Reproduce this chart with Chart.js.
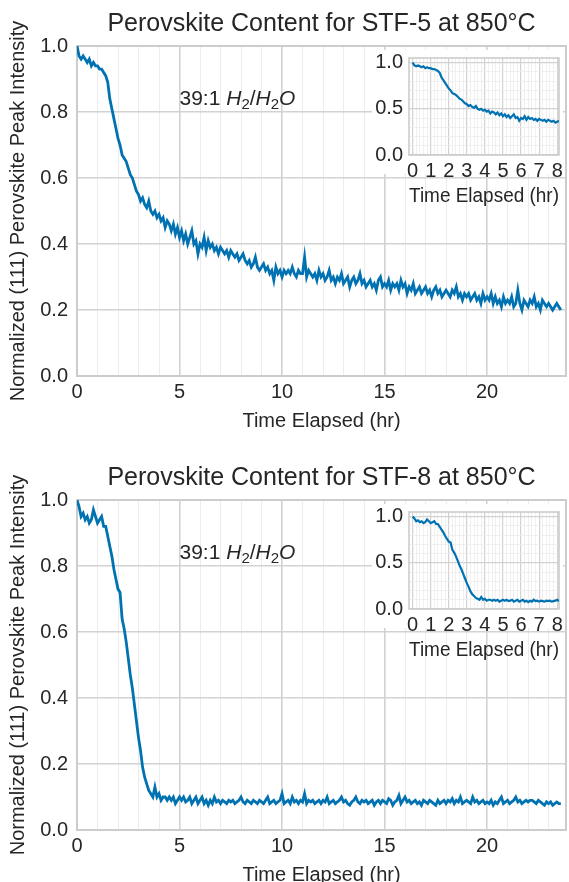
<!DOCTYPE html>
<html><head><meta charset="utf-8">
<script src="https://cdn.jsdelivr.net/npm/chart.js@4.4.1/dist/chart.umd.min.js"></script>
<style>
html,body{margin:0;padding:0;background:#fff;overflow:hidden;}
#wrap{position:relative;width:569px;height:882px;overflow:hidden;background:#fff;}
canvas{position:absolute;}
</style></head><body>
<div id="wrap">
<canvas id="main1" width="569" height="441" style="left:0px;top:0px"></canvas>
<canvas id="inset1" width="199" height="170" style="left:370px;top:40px"></canvas>
<canvas id="main2" width="569" height="441" style="left:0px;top:454px"></canvas>
<canvas id="inset2" width="199" height="170" style="left:370px;top:494px"></canvas>
</div>
<script>
// ---- data ----
const timeHr = [
  0,0.1,0.2,0.3,0.4,0.5,0.6,0.7,0.8,0.9,
  1,1.1,1.2,1.3,1.4,1.5,1.6,1.7,1.8,1.9,
  2,2.1,2.2,2.3,2.4,2.5,2.6,2.7,2.8,2.9,
  3,3.1,3.2,3.3,3.4,3.5,3.6,3.7,3.8,3.9,
  4,4.1,4.2,4.3,4.4,4.5,4.6,4.7,4.8,4.9,
  5,5.1,5.2,5.3,5.4,5.5,5.6,5.7,5.8,5.9,
  6,6.1,6.2,6.3,6.4,6.5,6.6,6.7,6.8,6.9,
  7,7.1,7.2,7.3,7.4,7.5,7.6,7.7,7.8,7.9,
  8,8.1,8.2,8.3,8.4,8.5,8.6,8.7,8.8,8.9,
  9,9.1,9.2,9.3,9.4,9.5,9.6,9.7,9.8,9.9,
  10,10.1,10.2,10.3,10.4,10.5,10.6,10.7,10.8,10.9,
  11,11.1,11.2,11.3,11.4,11.5,11.6,11.7,11.8,11.9,
  12,12.1,12.2,12.3,12.4,12.5,12.6,12.7,12.8,12.9,
  13,13.1,13.2,13.3,13.4,13.5,13.6,13.7,13.8,13.9,
  14,14.1,14.2,14.3,14.4,14.5,14.6,14.7,14.8,14.9,
  15,15.1,15.2,15.3,15.4,15.5,15.6,15.7,15.8,15.9,
  16,16.1,16.2,16.3,16.4,16.5,16.6,16.7,16.8,16.9,
  17,17.1,17.2,17.3,17.4,17.5,17.6,17.7,17.8,17.9,
  18,18.1,18.2,18.3,18.4,18.5,18.6,18.7,18.8,18.9,
  19,19.1,19.2,19.3,19.4,19.5,19.6,19.7,19.8,19.9,
  20,20.1,20.2,20.3,20.4,20.5,20.6,20.7,20.8,20.9,
  21,21.1,21.2,21.3,21.4,21.5,21.6,21.7,21.8,21.9,
  22,22.1,22.2,22.3,22.4,22.5,22.6,22.7,22.8,22.9,
  23,23.1,23.2,23.3,23.4,23.5,23.6];

const stf5Intensity = [
  1.00,0.97,0.96,0.97,0.96,0.95,0.96,0.94,0.95,0.94,
  0.94,0.93,0.93,0.92,0.91,0.89,0.84,0.81,0.78,0.75,
  0.72,0.70,0.67,0.66,0.65,0.63,0.61,0.60,0.58,0.56,
  0.55,0.53,0.54,0.52,0.51,0.53,0.50,0.49,0.50,0.48,
  0.49,0.47,0.48,0.45,0.47,0.46,0.44,0.46,0.43,0.45,
  0.42,0.44,0.41,0.43,0.40,0.42,0.44,0.40,0.41,0.37,
  0.40,0.39,0.42,0.38,0.41,0.39,0.40,0.38,0.39,0.37,
  0.39,0.38,0.37,0.38,0.36,0.38,0.37,0.36,0.37,0.35,
  0.36,0.37,0.35,0.34,0.35,0.33,0.34,0.36,0.33,0.32,
  0.33,0.34,0.32,0.33,0.31,0.32,0.29,0.33,0.31,0.32,
  0.30,0.32,0.31,0.32,0.31,0.33,0.31,0.30,0.32,0.31,
  0.31,0.36,0.30,0.32,0.31,0.30,0.31,0.29,0.32,0.30,
  0.31,0.29,0.30,0.32,0.29,0.30,0.28,0.30,0.29,0.31,
  0.28,0.29,0.30,0.27,0.29,0.30,0.28,0.29,0.31,0.28,
  0.29,0.27,0.28,0.29,0.27,0.28,0.26,0.29,0.30,0.27,
  0.28,0.27,0.29,0.26,0.28,0.27,0.28,0.26,0.29,0.27,
  0.28,0.25,0.27,0.26,0.28,0.25,0.26,0.27,0.25,0.26,
  0.27,0.25,0.26,0.24,0.26,0.27,0.25,0.26,0.24,0.25,
  0.26,0.25,0.24,0.26,0.25,0.27,0.24,0.25,0.23,0.25,
  0.24,0.25,0.23,0.24,0.25,0.23,0.24,0.22,0.25,0.23,
  0.24,0.23,0.25,0.22,0.24,0.22,0.23,0.21,0.24,0.22,
  0.23,0.22,0.24,0.21,0.22,0.26,0.22,0.20,0.23,0.22,
  0.21,0.23,0.22,0.24,0.21,0.22,0.20,0.23,0.22,0.21,
  0.22,0.21,0.20,0.21,0.22,0.21,0.20];

const stf8Intensity = [
  1.00,0.98,0.95,0.96,0.94,0.95,0.93,0.94,0.97,0.95,
  0.93,0.94,0.95,0.92,0.92,0.89,0.86,0.83,0.79,0.76,
  0.73,0.72,0.64,0.61,0.57,0.52,0.47,0.43,0.38,0.33,
  0.28,0.24,0.19,0.16,0.14,0.12,0.11,0.10,0.13,0.10,
  0.11,0.09,0.10,0.10,0.09,0.10,0.09,0.10,0.08,0.09,
  0.10,0.09,0.10,0.085,0.09,0.10,0.08,0.09,0.10,0.08,
  0.09,0.10,0.08,0.09,0.075,0.09,0.08,0.10,0.085,0.09,
  0.08,0.09,0.085,0.08,0.09,0.085,0.09,0.08,0.085,0.09,
  0.10,0.085,0.08,0.09,0.085,0.08,0.09,0.085,0.08,0.09,
  0.085,0.08,0.09,0.10,0.08,0.085,0.09,0.08,0.085,0.09,
  0.11,0.08,0.085,0.09,0.08,0.10,0.085,0.09,0.08,0.09,
  0.085,0.11,0.08,0.09,0.085,0.09,0.08,0.085,0.09,0.08,
  0.09,0.085,0.10,0.08,0.085,0.09,0.08,0.085,0.09,0.10,
  0.085,0.09,0.08,0.075,0.085,0.09,0.10,0.085,0.08,0.09,
  0.085,0.09,0.08,0.085,0.09,0.075,0.085,0.09,0.08,0.09,
  0.085,0.08,0.095,0.09,0.075,0.085,0.09,0.105,0.08,0.09,
  0.10,0.085,0.09,0.08,0.085,0.09,0.08,0.085,0.075,0.09,
  0.085,0.08,0.09,0.085,0.08,0.075,0.09,0.08,0.085,0.09,
  0.08,0.09,0.085,0.095,0.08,0.09,0.085,0.10,0.08,0.085,
  0.09,0.085,0.08,0.10,0.085,0.09,0.08,0.085,0.09,0.08,
  0.085,0.08,0.09,0.075,0.085,0.08,0.09,0.10,0.08,0.085,
  0.09,0.08,0.085,0.09,0.10,0.085,0.09,0.08,0.085,0.09,
  0.085,0.09,0.09,0.085,0.08,0.09,0.085,0.08,0.075,0.085,
  0.08,0.085,0.075,0.08,0.085,0.08,0.08];

const chartTitles = ['Perovskite Content for STF-5 at 850°C', 'Perovskite Content for STF-8 at 850°C'];
const xAxisTitle = 'Time Elapsed (hr)';
const yAxisTitle = 'Normalized (111) Perovskite Peak Intensity';
const annotationLead = '39:1 ';
const mainXTicks = [0, 5, 10, 15, 20];
const mainYTicks = [0, 0.2, 0.4, 0.6, 0.8, 1.0];
const insetXTicks = [0, 1, 2, 3, 4, 5, 6, 7, 8];
const insetYTicks = [0, 0.5, 1.0];

// ---- style ----
const BLUE = '#0072B2';
const TEXT = '#262626';
const MAJOR = '#d2d2d2';
const MINOR = '#ececec';
const SPINE = '#cccccc';
const FAMILY = '"Liberation Sans", Arial, Helvetica, sans-serif';
Chart.defaults.font.family = FAMILY;
Chart.defaults.color = TEXT;

function isIn(list, v) { return list.some(t => Math.abs(t - v) < 1e-9); }

const framePlugin = {
  id: 'frame',
  beforeDatasetsDraw(chart, args, opts) {
    const a = chart.chartArea, ctx = chart.ctx;
    ctx.save();
    ctx.strokeStyle = SPINE;
    ctx.lineWidth = opts.width || 2;
    ctx.strokeRect(a.left, a.top, a.right - a.left, a.bottom - a.top);
    ctx.restore();
  }
};

const insetBgPlugin = {
  id: 'insetBg',
  beforeDraw(chart) {
    const ctx = chart.ctx;
    ctx.save();
    ctx.fillStyle = '#ffffff';
    ctx.fillRect(2, 10, 191, 124);
    ctx.restore();
  }
};

const annotationPlugin = {
  id: 'ann',
  afterDatasetsDraw(chart) {
    const ctx = chart.ctx;
    const x0 = chart.scales.x.getPixelForValue(5);
    const y0 = chart.scales.y.getPixelForValue(0.82);
    ctx.save();
    ctx.fillStyle = TEXT;
    ctx.textBaseline = 'alphabetic';
    ctx.textAlign = 'left';
    let x = x0;
    const put = (txt, font, dy) => {
      ctx.font = font;
      ctx.fillText(txt, x, y0 + (dy || 0));
      x += ctx.measureText(txt).width;
    };
    const N = '21px ' + FAMILY, I = 'italic 21px ' + FAMILY, S = '15px ' + FAMILY;
    put(annotationLead, N);
    put('H', I); put('2', S, 4); put('/', N);
    put('H', I); put('2', S, 4); put('O', I);
    ctx.restore();
  }
};

function makeMain(id, title, values) {
  const pts = timeHr.map((t, i) => ({x: t, y: values[i]}));
  const xGrid = [];
  for (let v = 0; v <= 23; v++) xGrid.push(v);
  return new Chart(document.getElementById(id), {
    type: 'line',
    data: {datasets: [{data: pts, borderColor: BLUE, borderWidth: 2.8, pointRadius: 0, tension: 0, fill: false}]},
    options: {
      responsive: false, animation: false, devicePixelRatio: 1,
      layout: {padding: {left: 0, right: 3, top: 0, bottom: 0}},
      plugins: {legend: {display: false}, tooltip: {enabled: false}, title: {display: false}, frame: {width: 2}},
      scales: {
        x: {
          type: 'linear', position: 'bottom', min: 0, max: 23.85,
          afterBuildTicks: s => { s.ticks = xGrid.map(v => ({value: v})); },
          afterFit: s => { s.height = 65; },
          ticks: {autoSkip: false, maxRotation: 0, minRotation: 0, padding: 4, color: TEXT, font: {size: 20},
            callback: v => isIn(mainXTicks, v) ? String(v) : ''},
          grid: {drawTicks: false, color: c => isIn(mainXTicks, c.tick.value) ? MAJOR : MINOR,
            lineWidth: c => isIn(mainXTicks, c.tick.value) ? 1.6 : 1},
          border: {display: false},
          title: {display: true, text: xAxisTitle, color: TEXT, font: {size: 20}, padding: {top: 0, bottom: 8}}
        },
        xTop: {
          type: 'linear', position: 'top', min: 0, max: 23.85,
          grid: {display: false}, border: {display: false}, ticks: {display: false},
          afterFit: s => { s.height = 46; },
          title: {display: true, text: title, color: TEXT, font: {size: 25}, padding: {top: 9, bottom: 0}}
        },
        y: {
          type: 'linear', min: 0, max: 1,
          afterBuildTicks: s => { s.ticks = mainYTicks.map(v => ({value: v})); },
          afterFit: s => { s.width = 77; },
          ticks: {padding: 9, color: TEXT, font: {size: 20}, callback: v => Number(v).toFixed(1)},
          grid: {drawTicks: false, color: MAJOR, lineWidth: 1.6},
          border: {display: false},
          title: {display: true, text: yAxisTitle, color: TEXT, font: {size: 20}, padding: {top: 6, bottom: 0}}
        }
      }
    },
    plugins: [framePlugin, annotationPlugin]
  });
}

function makeInset(id, values) {
  const pts = [];
  timeHr.forEach((t, i) => { if (t <= 8.1) pts.push({x: t, y: values[i]}); });
  const xGrid = [], yGrid = [];
  for (let i = 0; i <= 40; i++) xGrid.push(i / 5);
  for (let i = 0; i <= 10; i++) yGrid.push(i / 10);
  return new Chart(document.getElementById(id), {
    type: 'line',
    data: {datasets: [{data: pts, borderColor: BLUE, borderWidth: 2.2, pointRadius: 0, tension: 0, fill: false}]},
    options: {
      responsive: false, animation: false, devicePixelRatio: 1,
      layout: {padding: {left: 0, right: 10, top: 15, bottom: 0}},
      plugins: {legend: {display: false}, tooltip: {enabled: false}, title: {display: false}, frame: {width: 1.6}},
      scales: {
        x: {
          type: 'linear', min: -0.2, max: 8.1,
          afterBuildTicks: s => { s.ticks = xGrid.map(v => ({value: v})); },
          afterFit: s => { s.height = 55; },
          ticks: {autoSkip: false, maxRotation: 0, minRotation: 0, padding: 4, color: TEXT, font: {size: 20},
            callback: v => isIn(insetXTicks, v) ? String(Math.round(v)) : ''},
          grid: {drawTicks: false, color: c => isIn(insetXTicks, c.tick.value) ? MAJOR : MINOR,
            lineWidth: c => isIn(insetXTicks, c.tick.value) ? 1.2 : 0.8},
          border: {display: false},
          title: {display: true, text: xAxisTitle, color: TEXT, font: {size: 20}, padding: {top: 0, bottom: 2}}
        },
        y: {
          type: 'linear', min: 0, max: 1.05,
          afterBuildTicks: s => { s.ticks = yGrid.map(v => ({value: v})); },
          afterFit: s => { s.width = 39; },
          ticks: {autoSkip: false, padding: 6, color: TEXT, font: {size: 20},
            callback: v => isIn(insetYTicks, v) ? Number(v).toFixed(1) : ''},
          grid: {drawTicks: false, color: c => isIn(insetYTicks, c.tick.value) ? MAJOR : MINOR,
            lineWidth: c => isIn(insetYTicks, c.tick.value) ? 1.2 : 0.8},
          border: {display: false}
        }
      }
    },
    plugins: [insetBgPlugin, framePlugin]
  });
}

makeMain('main1', chartTitles[0], stf5Intensity);
makeInset('inset1', stf5Intensity);
makeMain('main2', chartTitles[1], stf8Intensity);
makeInset('inset2', stf8Intensity);
</script>
</body></html>
